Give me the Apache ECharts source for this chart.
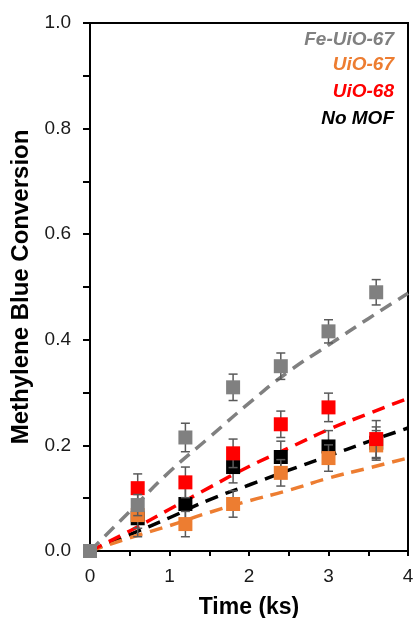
<!DOCTYPE html>
<html><head><meta charset="utf-8">
<script src="https://cdn.jsdelivr.net/npm/echarts@6/dist/echarts.min.js"></script>
<style>html,body{margin:0;padding:0;background:#fff}#c{width:415px;height:618px}</style>
</head><body><div id="c"></div>
<script>
// Measurement times (ks)
const times = [0, 0.6, 1.2, 1.8, 2.4, 3.0, 3.6];
// Measured conversions
const feUio67 = [0, 0.087, 0.215, 0.31, 0.35, 0.416, 0.49];
const uio67   = [0, 0.068, 0.051, 0.089, 0.148, 0.176, 0.20];
const uio68   = [0, 0.119, 0.130, 0.185, 0.240, 0.272, 0.212];
const noMof   = [0, 0.062, 0.089, 0.159, 0.178, 0.198, 0.205];
// Error bar half-widths
const feErr   = [0, 0.02, 0.027, 0.025, 0.025, 0.022, 0.024];
const u67Err  = [0, 0.025, 0.024, 0.025, 0.025, 0.025, 0.028];
const u68Err  = [0, 0.027, 0.029, 0.027, 0.025, 0.027, 0.035];
const noErr   = [0, 0.035, 0.03, 0.03, 0.03, 0.03, 0.03];
// Fit curves
const fitT    = [0, 0.5, 1, 1.5, 2, 2.5, 3, 3.5, 4];
const feFit   = [0, 0.075, 0.15, 0.215, 0.28, 0.34, 0.39, 0.44, 0.488];
const u68Fit  = [0, 0.038, 0.079, 0.12, 0.16, 0.195, 0.23, 0.26, 0.289];
const noFit   = [0, 0.031, 0.063, 0.097, 0.125, 0.153, 0.18, 0.207, 0.233];
const u67Fit  = [0, 0.025, 0.048, 0.073, 0.095, 0.115, 0.138, 0.157, 0.176];
// Axis ticks
const xTicks = [0, 1, 2, 3, 4];
const yTicks = [0, 0.2, 0.4, 0.6, 0.8, 1.0];

const names = ['Fe-UiO-67', 'UiO-67', 'UiO-68', 'No MOF'];
const colors = {'Fe-UiO-67': '#808080', 'UiO-67': '#ED7D31', 'UiO-68': '#FF0000', 'No MOF': '#000000'};

const chart = echarts.init(document.getElementById('c'));
const zip = (a, b) => a.map((v, i) => [v, b[i]]);

function errSeries(name, vals, errs, z) {
  return {
    type: 'custom', name: name, z: z,
    data: times.map((t, i) => [t, vals[i] - errs[i], vals[i] + errs[i]]),
    renderItem: function (params, api) {
      const x = api.value(0);
      const lo = api.coord([x, api.value(1)]);
      const hi = api.coord([x, api.value(2)]);
      const w = 4.5;
      const st = {stroke: '#5a5a5a', lineWidth: 1.5};
      return {type: 'group', children: [
        {type: 'line', shape: {x1: lo[0], y1: lo[1], x2: hi[0], y2: hi[1]}, style: st},
        {type: 'line', shape: {x1: lo[0] - w, y1: lo[1], x2: lo[0] + w, y2: lo[1]}, style: st},
        {type: 'line', shape: {x1: hi[0] - w, y1: hi[1], x2: hi[0] + w, y2: hi[1]}, style: st}
      ]};
    }
  };
}
function fitSeries(name, vals, z) {
  return {
    type: 'line', name: name, z: z, smooth: true, symbol: 'none',
    data: zip(fitT, vals),
    lineStyle: {color: colors[name], width: 3.5, type: [13, 8]}
  };
}
function markSeries(name, vals, z) {
  return {
    type: 'scatter', name: name, z: z, symbol: 'rect', symbolSize: 14,
    data: zip(times, vals),
    itemStyle: {color: colors[name], opacity: 1}
  };
}

const legendTops = [30, 55, 82, 109];
const legends = names.map((n, i) => ({
  data: [{name: n, icon: 'none', textStyle: {color: colors[n]}}],
  right: 21, top: legendTops[i], itemWidth: 0, itemGap: 0, padding: 0,
  selectedMode: false,
  textStyle: {fontFamily: 'Liberation Sans, Arial', fontSize: 19, fontWeight: 'bold', fontStyle: 'italic'}
}));

const axisFont = {fontFamily: 'Liberation Sans, Arial', fontSize: 19, color: '#1a1a1a'};
const titleFont = {fontFamily: 'Liberation Sans, Arial', fontSize: 23, fontWeight: 'bold', color: '#000'};

chart.setOption({
  animation: false,
  legend: legends,
  grid: {left: 90, right: 7, top: 23, bottom: 67, show: true, borderColor: '#000', borderWidth: 2,
         backgroundColor: 'transparent', outerBoundsMode: 'none', containLabel: false},
  xAxis: {
    type: 'value', min: xTicks[0], max: xTicks[xTicks.length - 1], interval: 1,
    name: 'Time (ks)', nameLocation: 'middle', nameGap: 45,
    nameTextStyle: titleFont,
    axisLine: {lineStyle: {color: '#000', width: 2}},
    axisTick: {length: 5, lineStyle: {color: '#000', width: 2}},
    minorTick: {show: true, splitNumber: 2, length: 5, lineStyle: {color: '#000', width: 2}},
    splitLine: {show: false},
    axisLabel: Object.assign({margin: 16}, axisFont)
  },
  yAxis: {
    type: 'value', min: yTicks[0], max: yTicks[yTicks.length - 1], interval: 0.2,
    name: 'Methylene Blue Conversion', nameLocation: 'middle', nameGap: 53,
    nameTextStyle: Object.assign({}, titleFont, {fontSize: 24}),
    axisLine: {lineStyle: {color: '#000', width: 2}},
    axisTick: {length: 7, lineStyle: {color: '#000', width: 2}},
    minorTick: {show: true, splitNumber: 2, length: 7, lineStyle: {color: '#000', width: 2}},
    splitLine: {show: false},
    axisLabel: Object.assign({margin: 19, formatter: v => v.toFixed(1)}, axisFont)
  },
  series: [
    fitSeries('No MOF', noFit, 2),
    fitSeries('UiO-67', u67Fit, 2),
    fitSeries('UiO-68', u68Fit, 2),
    fitSeries('Fe-UiO-67', feFit, 2),
    errSeries('No MOF', noMof, noErr, 3),
    markSeries('No MOF', noMof, 4),
    errSeries('UiO-67', uio67, u67Err, 5),
    markSeries('UiO-67', uio67, 6),
    errSeries('UiO-68', uio68, u68Err, 7),
    markSeries('UiO-68', uio68, 8),
    errSeries('Fe-UiO-67', feUio67, feErr, 9),
    markSeries('Fe-UiO-67', feUio67, 10)
  ]
});
</script></body></html>
